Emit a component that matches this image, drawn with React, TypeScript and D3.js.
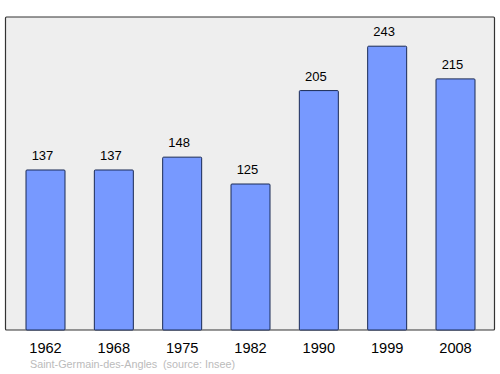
import React from "react";
import * as d3 from "d3";

const years = ["1962", "1968", "1975", "1982", "1990", "1999", "2008"];
const population = [137, 137, 148, 125, 205, 243, 215];
const commune = "Saint-Germain-des-Angles";
const source = "(source: Insee)";

export default function App() {
  const W = 500, H = 374;
  const frame = { left: 5.5, top: 17, right: 494.5, bottom: 330 };
  const x = d3.scalePoint<string>().domain(years).range([45.5, 455.5]);
  const y = d3.scaleLinear().domain([0, 268]).range([frame.bottom, frame.top]);
  const barW = 39;
  const font = "'Liberation Sans', Arial, sans-serif";
  return (
    <svg width={W} height={H} style={{ position: "absolute", left: 0, top: 0 }}>
      <rect x={frame.left} y={frame.top} width={frame.right - frame.left} height={frame.bottom - frame.top}
        fill="#eeeeee" stroke="#333" strokeWidth={1.2} rx={1} />
      {years.map((yr, i) => {
        const cx = x(yr)!;
        const v = population[i];
        return (
          <g key={yr}>
            <rect x={cx - barW / 2} y={y(v)} width={barW} height={frame.bottom - y(v)}
              fill="#7799ff" stroke="#1a2a55" strokeWidth={1} rx={1} />
            <text x={cx - 3} y={y(v) - 10} textAnchor="middle" fontFamily={font} fontSize={13} fill="#000">{v}</text>
            <text x={cx} y={352.5} textAnchor="middle" fontFamily={font} fontSize={14.6} fill="#000">{yr}</text>
          </g>
        );
      })}
      <text x={30} y={367.5} fontFamily={font} fontSize={10.8} fill="#bbbbbb">{commune}</text>
      <text x={163} y={367.5} fontFamily={font} fontSize={10.8} fill="#bbbbbb">{source}</text>
    </svg>
  );
}
